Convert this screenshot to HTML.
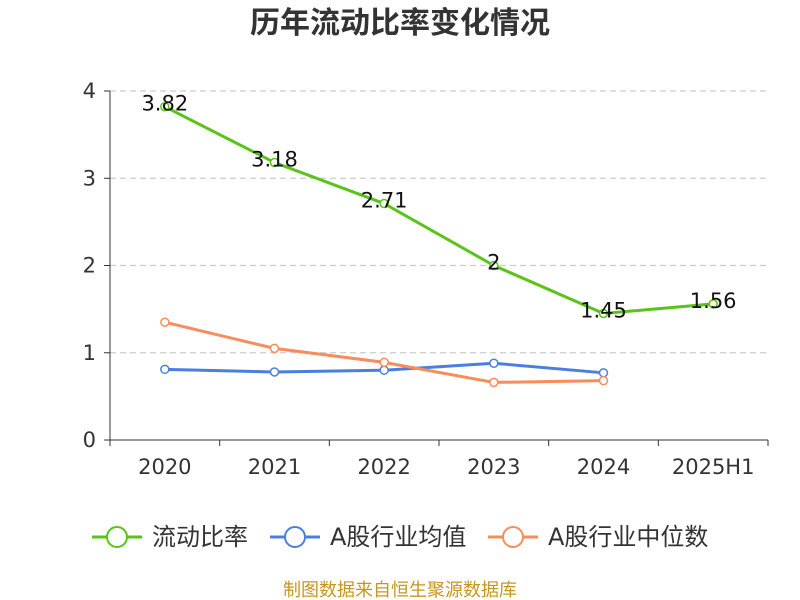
<!DOCTYPE html>
<html><head><meta charset="utf-8">
<style>
html,body{margin:0;padding:0;background:#fff;}
svg{display:block;font-family:"DejaVu Sans","Noto Sans CJK SC",sans-serif;}
</style></head>
<body>
<svg id="chart" width="800" height="600"></svg>
<script>
const categories=["2020","2021","2022","2023","2024","2025H1"];
const ratioValues=[3.82,3.18,2.71,2,1.45,1.56];
const industryAvg=[0.81,0.78,0.80,0.88,0.77,null];
const industryMedian=[1.35,1.05,0.89,0.66,0.68,null];
const yTicks=[0,1,2,3,4];
const ratioLabels=["3.82","3.18","2.71","2","1.45","1.56"];

const NS="http://www.w3.org/2000/svg";
const svg=document.getElementById('chart');
const x0=110,x1=768,y0=440,y1=91,yMax=4;
const band=(x1-x0)/categories.length;
const xs=i=>x0+band*(i+0.5);
const ys=v=>y0-(v/yMax)*(y0-y1);
function el(t,a,p){const e=document.createElementNS(NS,t);for(const k in a)e.setAttribute(k,a[k]);(p||svg).appendChild(e);return e;}

const title=el('text',{x:400,y:33,'text-anchor':'middle','font-size':30,'font-weight':'bold',fill:'#333'});
title.textContent='历年流动比率变化情况';



yTicks.forEach(t=>{
  const y=ys(t);
  if(t>0){const g=el('line',{x1:x0,x2:x1,y1:y,y2:y,stroke:'#ccc','stroke-dasharray':'6,4','stroke-width':1.2});
  
  }
  el('line',{x1:x0-6,x2:x0,y1:y,y2:y,stroke:'#333'});
  const l=el('text',{x:x0-14,y:y+7,'text-anchor':'end','font-size':21,fill:'#333'});
  l.textContent=t;
  
  
});
el('line',{x1:x0,x2:x0,y1:y1,y2:y0,stroke:'#333'});
el('line',{x1:x0,x2:x1,y1:y0,y2:y0,stroke:'#333'});
for(let i=0;i<=categories.length;i++){el('line',{x1:x0+band*i,x2:x0+band*i,y1:y0,y2:y0+6,stroke:'#333'});}
categories.forEach((c,i)=>{
  const l=el('text',{x:xs(i),y:474,'text-anchor':'middle','font-size':21,fill:'#333'});
  l.textContent=c;
  
  
});

function series(vals,color,name){
  const pts=[];vals.forEach((v,i)=>{if(v!=null)pts.push([xs(i),ys(v)]);});
  const p=el('polyline',{points:pts.map(p=>p.join(',')).join(' '),fill:'none',stroke:color,'stroke-width':3});
  
  
  pts.forEach(q=>{const c=el('circle',{cx:q[0],cy:q[1],r:4,fill:'#fff',stroke:color,'stroke-width':1.5});
  
  });
}
series(industryAvg,'#4a7fe0','industry-average');
series(industryMedian,'#f98c5a','industry-median');
series(ratioValues,'#5ac31a','current-ratio');
ratioValues.forEach((v,i)=>{
  const l=el('text',{x:xs(i),y:ys(v)+4,'text-anchor':'middle','font-size':21,fill:'#111'});
  l.textContent=ratioLabels[i];
  
  
});

const legend=[['流动比率','#5ac31a',92],['A股行业均值','#4a7fe0',270],['A股行业中位数','#f98c5a',488]];
legend.forEach(([t,c,x])=>{
  const g=el('g',{});
  
  
  el('line',{x1:x,x2:x+50,y1:537,y2:537,stroke:c,'stroke-width':3},g);
  el('circle',{cx:x+25,cy:537,r:10,fill:'#fff',stroke:c,'stroke-width':2},g);
  const l=el('text',{x:x+60,y:545,'font-size':24,fill:'#333'},g);l.textContent=t;
});
const f=el('text',{x:400,y:596,'text-anchor':'middle','font-size':18,fill:'#c8961e'});
f.textContent='制图数据来自恒生聚源数据库';


</script>
</body></html>
